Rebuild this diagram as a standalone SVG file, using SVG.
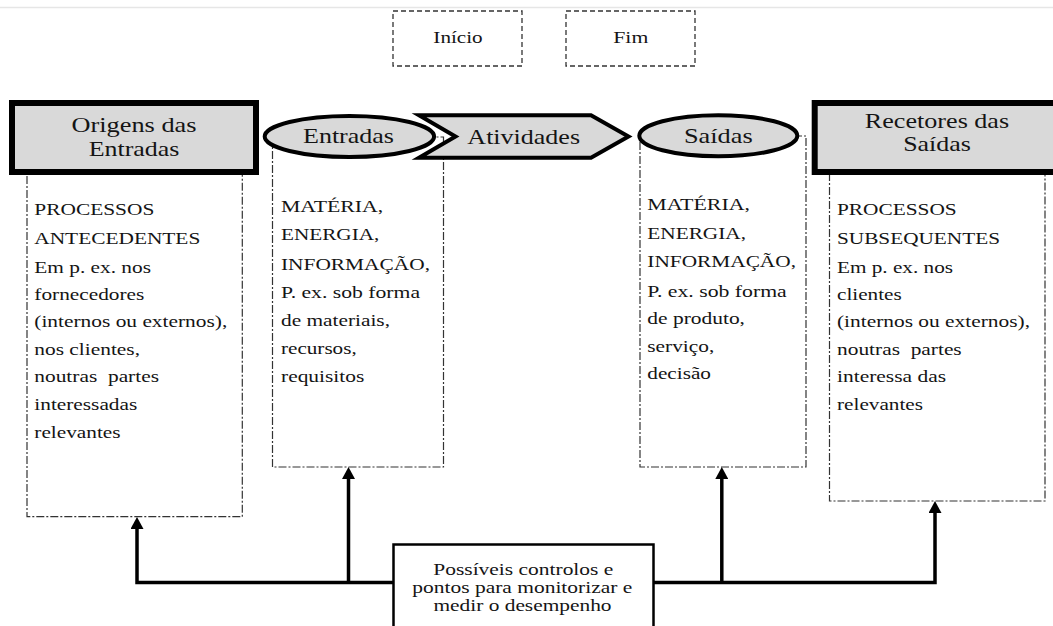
<svg xmlns="http://www.w3.org/2000/svg" width="1053" height="626" viewBox="0 0 1053 626">
<style>
text{font-family:"Liberation Serif","Tinos","Times New Roman","Nimbus Roman","Nimbus Roman No9 L","FreeSerif","Noto Serif","DejaVu Serif","Georgia",serif;fill:#141414}
.hdr{font-size:21px;text-anchor:middle}
.mid{font-size:17px;text-anchor:middle}
.ctl{font-size:16px;text-anchor:middle}
.body{font-size:17px}
.dd{fill:none;stroke:#333;stroke-width:1.2;stroke-dasharray:8 2 2 2}
.dash{fill:#fff;stroke:#333;stroke-width:1.3;stroke-dasharray:5 3}
.head{fill:#d9d9d9;stroke:#000;stroke-width:6}
.shape{fill:#d9d9d9;stroke:#000;stroke-width:4}
.conn{fill:none;stroke:#000;stroke-width:3.5;stroke-linejoin:miter}
</style>
<defs>
<marker id="ah" viewBox="0 0 12 13" refX="2" refY="6.5" markerWidth="12" markerHeight="13" markerUnits="userSpaceOnUse" orient="auto">
<path d="M0,0 L12,6.5 L0,13 z" fill="#000"/>
</marker>
</defs>
<rect width="1053" height="626" fill="#fff"/>
<line x1="0" y1="7.5" x2="1053" y2="7.5" stroke="#e6e6e6" stroke-width="1.5"/>

<g id="inicio">
<rect class="dash" x="393" y="11" width="129" height="55"/>
<text class="mid" x="458" y="43.3" textLength="49.3" lengthAdjust="spacingAndGlyphs">Início</text>
</g>
<g id="fim">
<rect class="dash" x="566" y="11" width="129" height="55"/>
<text class="mid" x="630.8" y="43.3" textLength="35" lengthAdjust="spacingAndGlyphs">Fim</text>
</g>

<g id="origens-detalhe">
<rect class="dd" x="27" y="160" width="215.3" height="356.7"/>
<text class="body" x="34.3" y="215" textLength="120" lengthAdjust="spacingAndGlyphs">PROCESSOS</text>
<text class="body" x="34.3" y="244" textLength="166" lengthAdjust="spacingAndGlyphs">ANTECEDENTES</text>
<text class="body" x="34.3" y="272.7" textLength="116.7" lengthAdjust="spacingAndGlyphs">Em p. ex. nos</text>
<text class="body" x="34.3" y="300" textLength="110" lengthAdjust="spacingAndGlyphs">fornecedores</text>
<text class="body" x="34.3" y="327.3" textLength="193" lengthAdjust="spacingAndGlyphs">(internos ou externos),</text>
<text class="body" x="34.3" y="355" textLength="105.7" lengthAdjust="spacingAndGlyphs">nos clientes,</text>
<text class="body" x="34.3" y="382.3" textLength="124.7" lengthAdjust="spacingAndGlyphs" xml:space="preserve">noutras  partes</text>
<text class="body" x="34.3" y="410" textLength="103" lengthAdjust="spacingAndGlyphs">interessadas</text>
<text class="body" x="34.3" y="438.3" textLength="86.3" lengthAdjust="spacingAndGlyphs">relevantes</text>
</g>

<g id="origens">
<rect class="head" x="12" y="103" width="244" height="69"/>
<text class="hdr" x="134" y="131.7" textLength="125" lengthAdjust="spacingAndGlyphs">Origens das</text>
<text class="hdr" x="134" y="156" textLength="90.7" lengthAdjust="spacingAndGlyphs">Entradas</text>
</g>

<g id="entradas-detalhe">
<rect class="dd" x="272.5" y="137" width="171" height="330"/>
<text class="body" x="281" y="211.7" textLength="102.3" lengthAdjust="spacingAndGlyphs">MATÉRIA,</text>
<text class="body" x="281" y="240" textLength="98.3" lengthAdjust="spacingAndGlyphs">ENERGIA,</text>
<text class="body" x="281" y="270" textLength="149" lengthAdjust="spacingAndGlyphs">INFORMAÇÃO,</text>
<text class="body" x="281" y="298.3" textLength="139" lengthAdjust="spacingAndGlyphs">P. ex. sob forma</text>
<text class="body" x="281" y="326" textLength="109" lengthAdjust="spacingAndGlyphs">de materiais,</text>
<text class="body" x="281" y="354" textLength="75.7" lengthAdjust="spacingAndGlyphs">recursos,</text>
<text class="body" x="281" y="381.7" textLength="83.3" lengthAdjust="spacingAndGlyphs">requisitos</text>
</g>

<g id="saidas-detalhe">
<rect class="dd" x="640" y="136" width="166" height="331"/>
<text class="body" x="647.3" y="210" textLength="102.7" lengthAdjust="spacingAndGlyphs">MATÉRIA,</text>
<text class="body" x="647.3" y="239" textLength="98.7" lengthAdjust="spacingAndGlyphs">ENERGIA,</text>
<text class="body" x="647.3" y="267.3" textLength="148.7" lengthAdjust="spacingAndGlyphs">INFORMAÇÃO,</text>
<text class="body" x="647.3" y="296.7" textLength="139.4" lengthAdjust="spacingAndGlyphs">P. ex. sob forma</text>
<text class="body" x="647.3" y="324.3" textLength="97.7" lengthAdjust="spacingAndGlyphs">de produto,</text>
<text class="body" x="647.3" y="351.7" textLength="67" lengthAdjust="spacingAndGlyphs">serviço,</text>
<text class="body" x="647.3" y="379" textLength="63.7" lengthAdjust="spacingAndGlyphs">decisão</text>
</g>

<g id="recetores-detalhe">
<rect class="dd" x="829.5" y="160" width="215.5" height="341"/>
<text class="body" x="837" y="215" textLength="119.7" lengthAdjust="spacingAndGlyphs">PROCESSOS</text>
<text class="body" x="837" y="244" textLength="163" lengthAdjust="spacingAndGlyphs">SUBSEQUENTES</text>
<text class="body" x="837" y="272.7" textLength="116" lengthAdjust="spacingAndGlyphs">Em p. ex. nos</text>
<text class="body" x="837" y="300" textLength="64.7" lengthAdjust="spacingAndGlyphs">clientes</text>
<text class="body" x="837" y="327.3" textLength="193" lengthAdjust="spacingAndGlyphs">(internos ou externos),</text>
<text class="body" x="837" y="355" textLength="124.7" lengthAdjust="spacingAndGlyphs" xml:space="preserve">noutras  partes</text>
<text class="body" x="837" y="382.3" textLength="109" lengthAdjust="spacingAndGlyphs">interessa das</text>
<text class="body" x="837" y="410" textLength="86" lengthAdjust="spacingAndGlyphs">relevantes</text>
</g>

<g id="entradas">
<ellipse class="shape" cx="349.4" cy="136.5" rx="84.7" ry="20.5"/>
<text class="hdr" x="348.5" y="143.3" textLength="91" lengthAdjust="spacingAndGlyphs">Entradas</text>
</g>

<g id="atividades">
<path class="shape" d="M419,115.3 L591,115.3 L628.5,136.5 L591,157.7 L419,157.7 L455.5,136.5 Z"/>
<text class="hdr" x="523.7" y="143.6" textLength="112.7" lengthAdjust="spacingAndGlyphs">Atividades</text>
</g>

<g id="saidas">
<ellipse class="shape" cx="718.3" cy="135.8" rx="79" ry="20.5"/>
<text class="hdr" x="718.3" y="143" textLength="68.7" lengthAdjust="spacingAndGlyphs">Saídas</text>
</g>

<g id="recetores">
<rect class="head" x="814.7" y="103" width="250" height="69"/>
<text class="hdr" x="937" y="128.3" textLength="144.3" lengthAdjust="spacingAndGlyphs">Recetores das</text>
<text class="hdr" x="937" y="151" textLength="67.7" lengthAdjust="spacingAndGlyphs">Saídas</text>
</g>

<g id="connectors">
<polyline class="conn" points="400,582.5 137,582.5 137,527" marker-end="url(#ah)"/>
<polyline class="conn" points="348.5,582.5 348.5,477" marker-end="url(#ah)"/>
<polyline class="conn" points="645,582.5 935,582.5 935,511" marker-end="url(#ah)"/>
<polyline class="conn" points="721.8,582.5 721.8,477" marker-end="url(#ah)"/>
</g>

<g id="controlos">
<rect x="393.5" y="544.5" width="260" height="100" fill="#fff" stroke="#000" stroke-width="2.5"/>
<text class="ctl" x="523.3" y="575" textLength="180" lengthAdjust="spacingAndGlyphs">Possíveis controlos e</text>
<text class="ctl" x="522.3" y="593" textLength="220" lengthAdjust="spacingAndGlyphs">pontos para monitorizar e</text>
<text class="ctl" x="522.5" y="610.5" textLength="178" lengthAdjust="spacingAndGlyphs">medir o desempenho</text>
</g>
</svg>
